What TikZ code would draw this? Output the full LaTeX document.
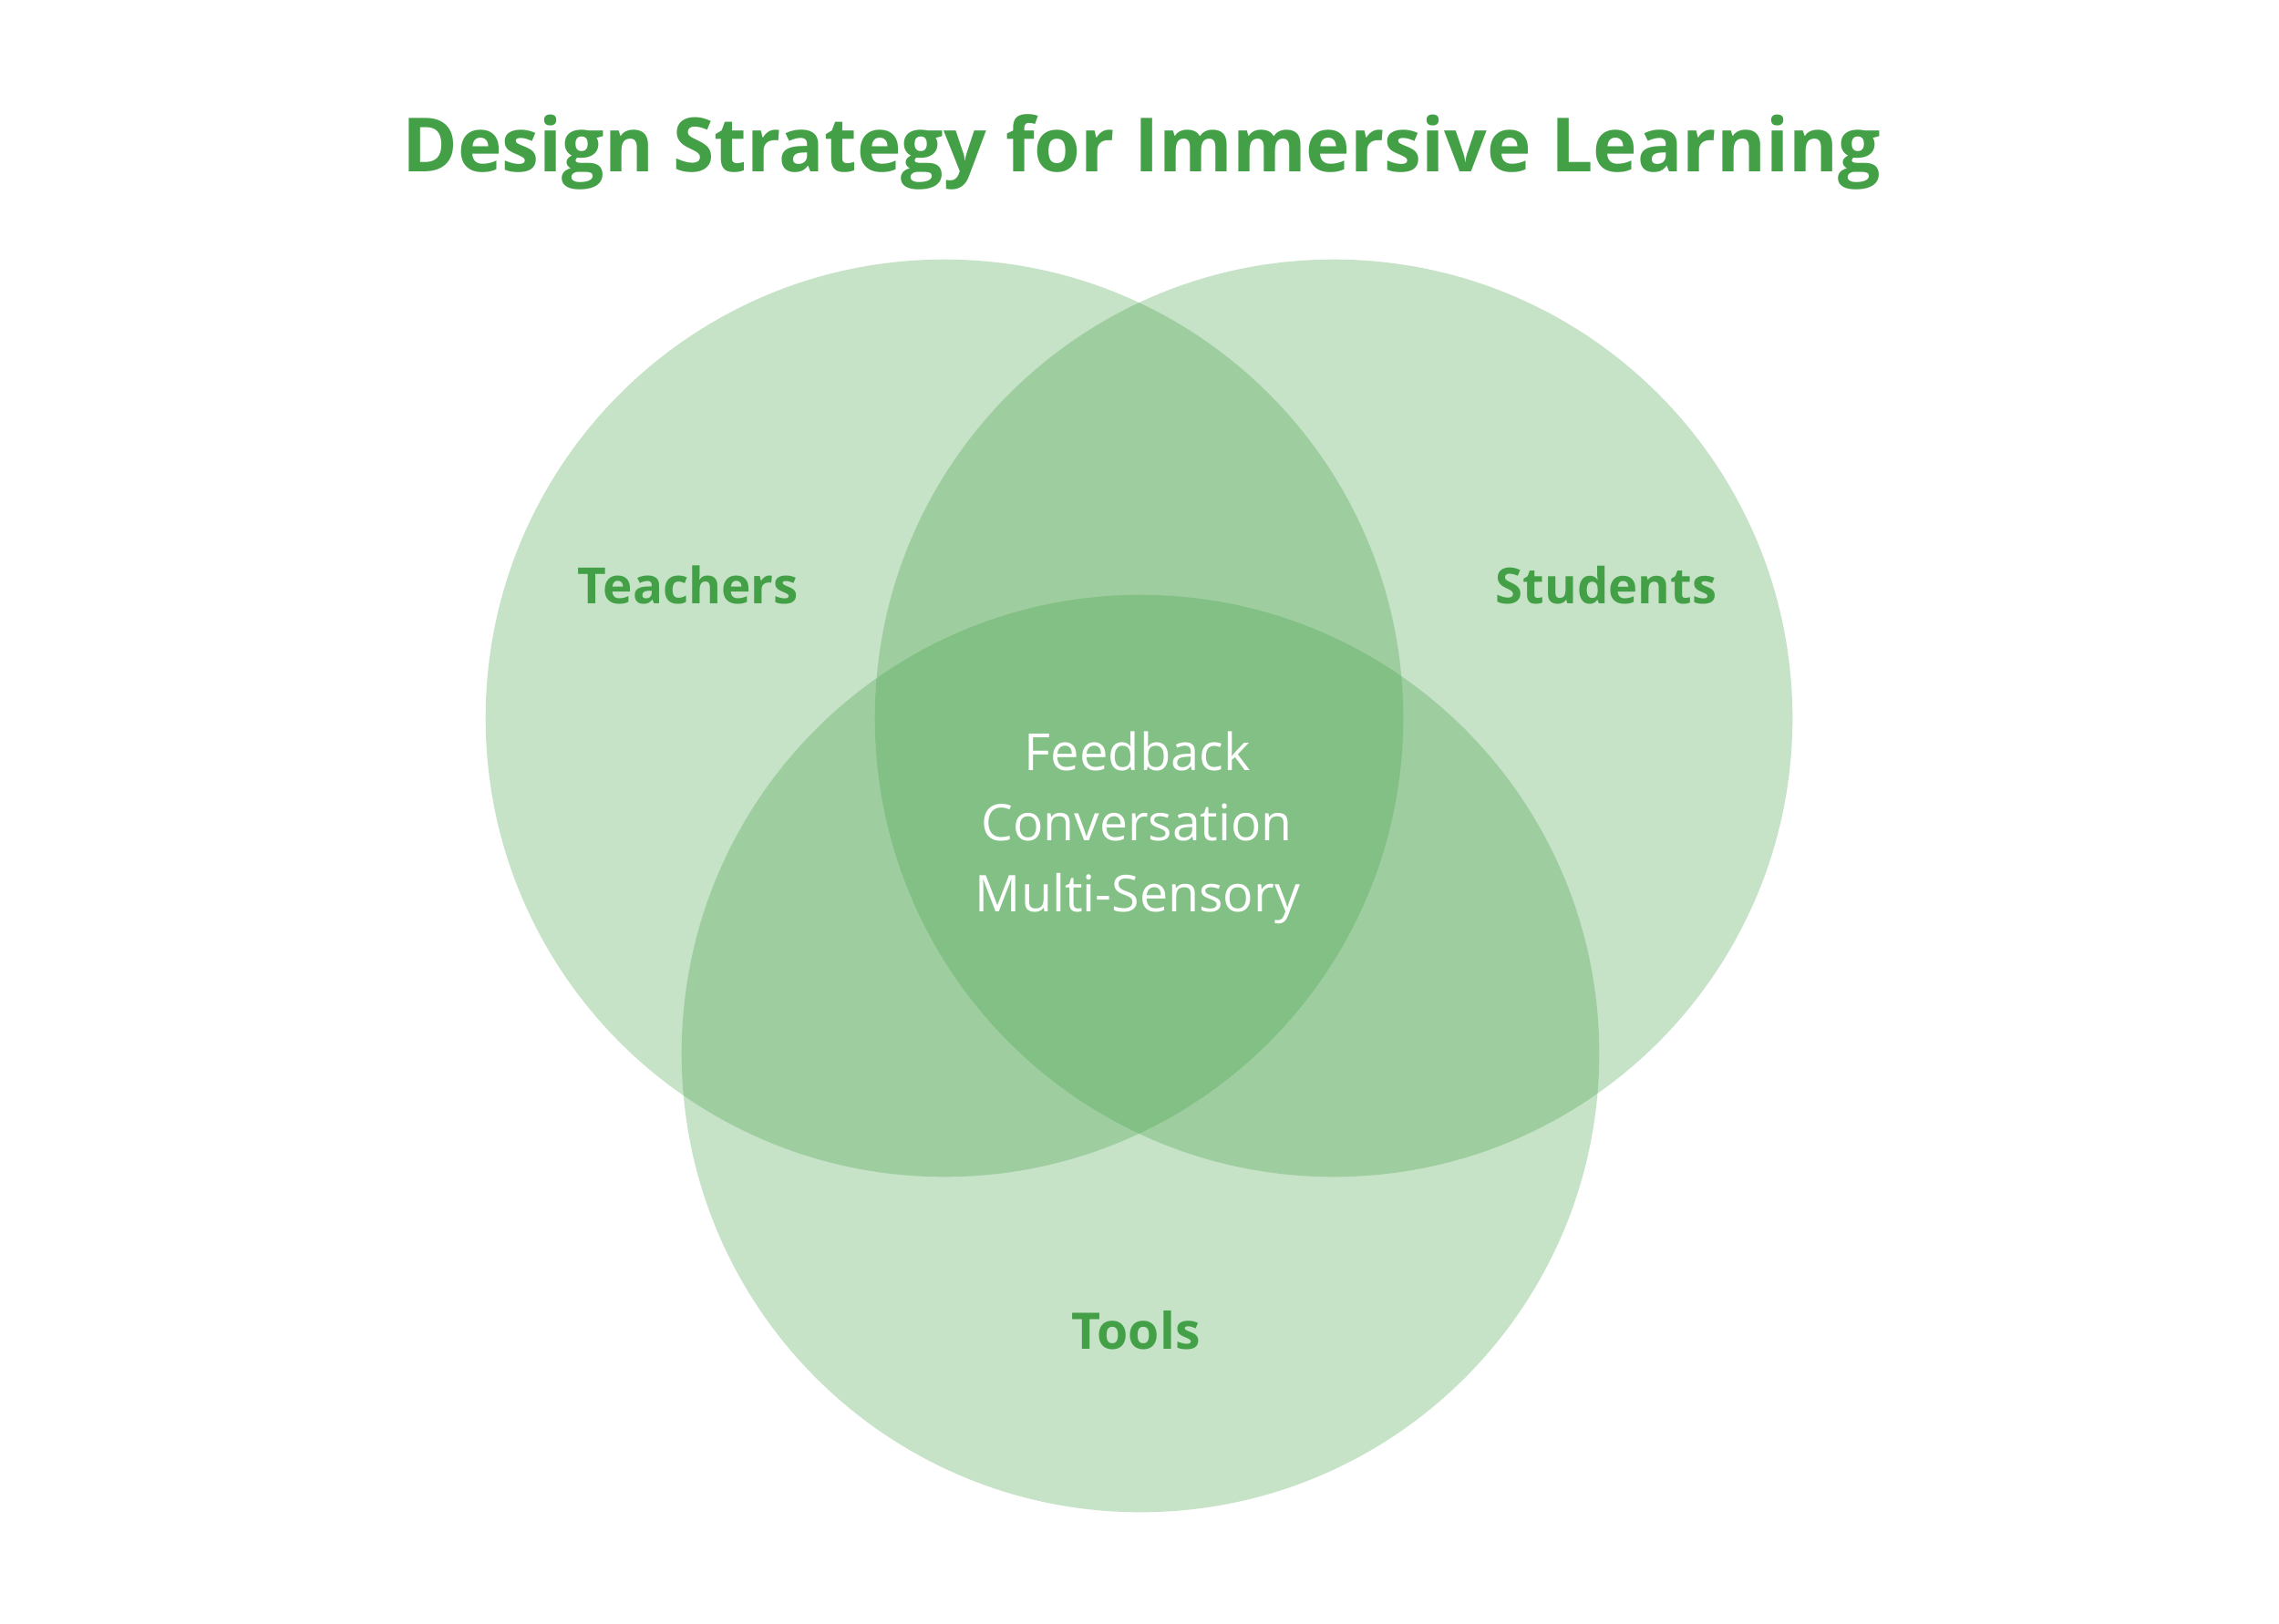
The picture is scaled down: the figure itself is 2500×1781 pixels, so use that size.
\documentclass[tikz,border=0pt]{standalone}
\usepackage{fontspec}
\setmainfont{Open Sans}
\definecolor{vgreen}{HTML}{43A047}
\tikzset{
  venn/.style={circle, minimum size=10.06cm, inner sep=0pt, fill=vgreen, fill opacity=0.3, draw=none},
  setlabel/.style={anchor=base, inner sep=0pt, text=vgreen, font=\bfseries},
  coretext/.style={anchor=base, inner sep=0pt, text=white},
  titletext/.style={anchor=base, inner sep=0pt, text=vgreen, font=\bfseries}
}
\begin{document}
\begin{tikzpicture}[x=0.01cm, y=-0.01cm]
\useasboundingbox (0,0) rectangle (2500,1781);
\fill[white] (0,0) rectangle (2500,1781);
\node[venn] (teachers) at (1036,788) {};
\node[venn] (students) at (1463,788) {};
\node[venn] (tools) at (1251,1156) {};
\node[titletext] (title) at (1252,188) {\resizebox{16.2cm}{!}{Design Strategy for Immersive Learning}};
\node[setlabel] (lteachers) at (755,662) {\resizebox{2.42cm}{!}{Teachers}};
\node[setlabel] (lstudents) at (1762,662) {\resizebox{2.42cm}{!}{Students}};
\node[setlabel] (ltools) at (1246,1480) {\resizebox{1.41cm}{!}{Tools}};
\node[coretext] (c1) at (1248,845) {\resizebox{2.48cm}{!}{Feedback}};
\node[coretext] (c2) at (1247,922) {\resizebox{3.41cm}{!}{Conversation}};
\node[coretext] (c3) at (1248,1000) {\resizebox{3.56cm}{!}{Multi-Sensory}};
\end{tikzpicture}
\end{document}
